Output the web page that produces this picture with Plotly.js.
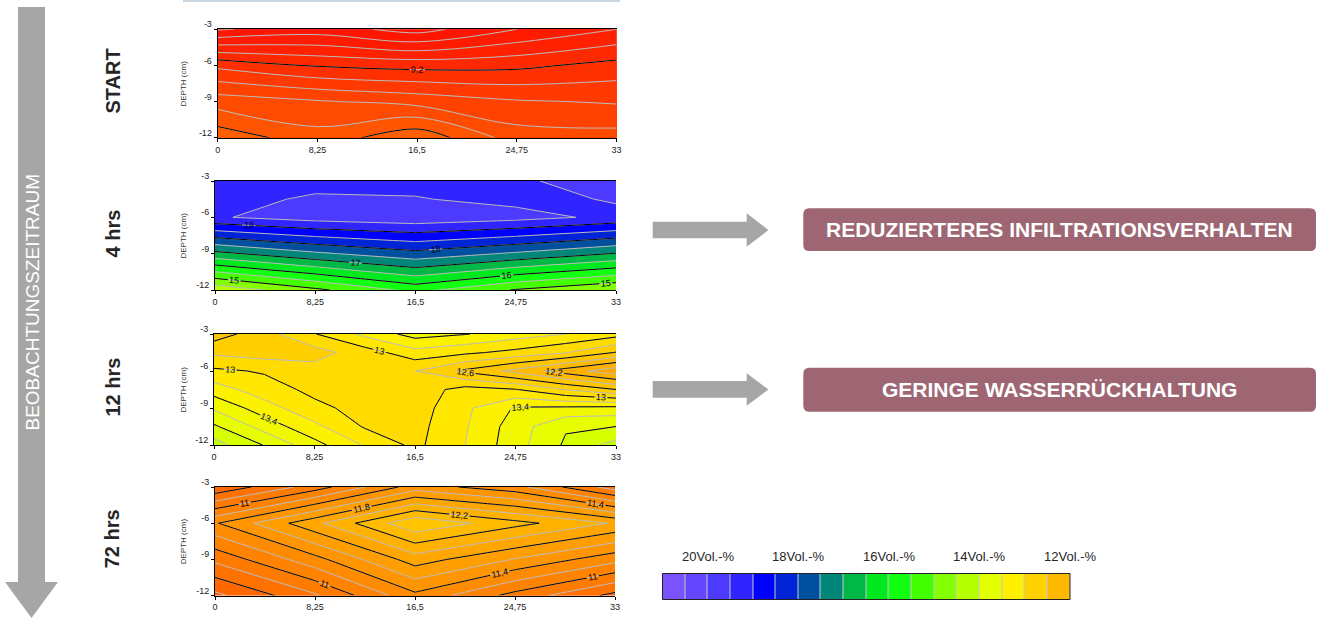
<!DOCTYPE html>
<html><head><meta charset="utf-8">
<script src="https://cdn.plot.ly/plotly-3.0.1.min.js"></script>
<style>html,body{margin:0;padding:0;background:#fff;overflow:hidden}#chart{width:1318px;height:618px}</style>
</head><body><div id="chart"></div>
<script>
// ---------------- data ----------------
const xTicks = [0, 8.25, 16.5, 24.75, 33];
const xTickText = ['0', '8,25', '16,5', '24,75', '33'];
const yTicks = [-3, -6, -9, -12];
const yTickText = ['-3', '-6', '-9', '-12'];
const panelNames = ['START', '4 hrs', '12 hrs', '72 hrs'];
const noteTexts = ['REDUZIERTERES INFILTRATIONSVERHALTEN', 'GERINGE WASSERRÜCKHALTUNG'];
const sideTitle = 'BEOBACHTUNGSZEITRAUM';

// START (Vol.-%)
const startX = [0, 8.25, 16.5, 24.75, 33];
const startY = [-3, -6, -9, -12];
const startZm3  = [8.38, 8.50, 8.32, 8.60, 8.80];
const startZm6  = [9.35, 9.18, 9.13, 9.15, 9.27];
const startZm9  = [9.91, 9.82, 9.73, 9.62, 9.58];
const startZm12 = [10.33, 10.08, 10.35, 9.90, 9.88];

// 4 hrs
const h4X = [0, 8.25, 16.5, 24.75, 33];
const h4Y = [-3, -4.5, -6, -9, -12];
const h4Zm3  = [19.30, 19.36, 19.35, 19.42, 19.75];
const h4Zm45 = [19.35, 19.56, 19.53, 19.36, 19.54];
const h4Zm6  = [19.45, 19.73, 19.85, 19.68, 19.38];
const h4Zm9  = [16.85, 17.40, 17.83, 17.42, 16.97];
const h4Zm12 = [14.13, 14.89, 15.66, 14.96, 14.50];

// 12 hrs
const h12X = [0, 4.125, 8.25, 12.375, 16.5, 20.625, 24.75, 28.875, 33];
const h12Y = [-3, -4.5, -6, -7.5, -9, -10.5, -12];
const h12Zm3   = [12.50, 12.72, 12.99, 13.25, 13.48, 13.41, 13.30, 13.20, 13.08];
const h12Zm45  = [12.76, 12.70, 12.72, 12.90, 13.13, 13.04, 12.94, 12.81, 12.59];
const h12Zm6   = [13.04, 12.98, 12.88, 12.84, 12.80, 12.56, 12.34, 12.10, 11.87];
const h12Zm75  = [13.30, 13.09, 12.95, 12.90, 12.88, 13.08, 13.01, 12.79, 12.60];
const h12Zm9   = [13.57, 13.29, 13.05, 12.93, 12.90, 13.16, 13.42, 13.44, 13.46];
const h12Zm105 = [13.83, 13.52, 13.25, 12.98, 12.93, 13.18, 13.50, 13.78, 13.80];
const h12Zm12  = [14.09, 13.79, 13.47, 13.18, 12.95, 13.20, 13.52, 13.83, 14.08];

// 72 hrs
const h72X = [0, 8.25, 16.5, 24.75, 33];
const h72Y = [-3, -6, -9, -12];
const h72Zm3  = [10.43, 10.90, 11.50, 11.27, 10.70];
const h72Zm6  = [11.38, 11.95, 12.57, 12.27, 11.98];
const h72Zm9  = [10.85, 11.33, 11.90, 11.59, 11.27];
const h72Zm12 = [10.35, 10.77, 11.35, 10.93, 10.54];

// colour key (Vol.-% bins) and colours
const legendValues = [20.75, 20.25, 19.75, 19.25, 18.75, 18.25, 17.75, 17.25, 16.75, 16.25, 15.75, 15.25, 14.75, 14.25, 13.75, 13.25, 12.75, 12.25];
const legendLabelValues = [20, 18, 16, 14, 12];
const legendLabels = ['20Vol.-%', '18Vol.-%', '16Vol.-%', '14Vol.-%', '12Vol.-%'];
const colorValues = [8.25, 8.75, 9.25, 9.75, 10.25, 10.75, 11.25, 11.75, 12.25, 12.75, 13.25, 13.75, 14.25, 14.75, 15.25, 15.75, 16.25, 16.75, 17.25, 17.75, 18.25, 18.75, 19.25, 19.75, 20.25, 20.75];
const colorHex = ['#ff1000', '#ff1c00', '#ff2e00', '#ff4400', '#ff5c00', '#ff7400', '#ff8a00', '#ffa000', '#ffb800', '#ffd200', '#fff000', '#e4ff00', '#b4ff00', '#84ff00', '#44ff00', '#12ff12', '#00e81e', '#00b846', '#00877a', '#0050a0', '#0024d6', '#0000ff', '#3024ff', '#4c3aff', '#6446ff', '#7b52ff'];

// ---------------- helpers ----------------
const W = 1318, H = 618;
const PX = v => v / W, PY = v => 1 - v / H;
function hex2rgb(h){return [parseInt(h.slice(1,3),16),parseInt(h.slice(3,5),16),parseInt(h.slice(5,7),16)];}
function colorAt(v){
  if (v <= colorValues[0]) return colorHex[0];
  const n = colorValues.length;
  if (v >= colorValues[n-1]) return colorHex[n-1];
  for (let i = 0; i < n-1; i++){
    if (v >= colorValues[i] && v <= colorValues[i+1]){
      const t = (v - colorValues[i]) / (colorValues[i+1] - colorValues[i]);
      const a = hex2rgb(colorHex[i]), b = hex2rgb(colorHex[i+1]);
      const c = a.map((x,k)=>Math.round(x + (b[k]-x)*t));
      return 'rgb(' + c.join(',') + ')';
    }
  }
}
function scaleFor(start, end, size){
  const nc = Math.floor((end - start) / size + 1e-6) + 1;
  const s = [];
  for (let k = 0; k <= nc; k++) s.push([k / nc, colorAt(start + (k - 0.5) * size)]);
  return s;
}
const FONT = 'Liberation Sans, Arial, sans-serif';

const panels = [
  {x: startX, y: startY, z: [startZm3, startZm6, startZm9, startZm12], box: [217.7, 29.3, 616.5, 137.7],
   fill: [8.2, 10.6, 0.2], lab: [9.2, 9.2, 1], plain: [10.2, 10.2, 1], fmt: '.2~g', smooth: 1},
  {x: h4X, y: h4Y, z: [h4Zm3, h4Zm45, h4Zm6, h4Zm9, h4Zm12], box: [215, 181, 616, 290],
   fill: [14, 20, 0.5], lab: [15, 19, 1], plain: null, fmt: '.0f', smooth: 0},
  {x: h12X, y: h12Y, z: [h12Zm3, h12Zm45, h12Zm6, h12Zm75, h12Zm9, h12Zm105, h12Zm12], box: [214, 334, 616, 445],
   fill: [11.8, 14.2, 0.2], lab: [12.2, 13.8, 0.4], plain: null, fmt: '.3~g', smooth: 0},
  {x: h72X, y: h72Y, z: [h72Zm3, h72Zm6, h72Zm9, h72Zm12], box: [215, 487, 615, 595.5],
   fill: [10.2, 12.8, 0.2], lab: [11.0, 12.2, 0.4], plain: [10.6, 10.6, 1], fmt: '.3~g', smooth: 0}
];

const traces = [];
const layout = {
  width: W, height: H, margin: {l:0, r:0, t:0, b:0}, paper_bgcolor: '#fff', plot_bgcolor: '#fff',
  showlegend: false, separators: ', ', font: {family: FONT, color: '#222'},
  shapes: [], annotations: []
};

panels.forEach((p, i) => {
  const n = i + 1, xa = 'x' + (n === 1 ? '' : n), ya = 'y' + (n === 1 ? '' : n);
  const [l, t, r, b] = p.box;
  layout['xaxis' + (n === 1 ? '' : n)] = {
    domain: [PX(l), PX(r)], anchor: ya, range: [0, 33], tickmode: 'array', tickvals: xTicks, ticktext: xTickText,
    ticks: 'outside', ticklen: 3, tickcolor: '#000', showline: true, linecolor: '#000', linewidth: 1, mirror: true,
    showgrid: false, zeroline: false, tickfont: {family: FONT, size: 9, color: '#222'}, fixedrange: true
  };
  layout['yaxis' + (n === 1 ? '' : n)] = {
    domain: [1 - b / H, 1 - t / H], anchor: xa, range: [-12, -3], tickmode: 'array', tickvals: yTicks, ticktext: yTickText,
    ticks: 'outside', ticklen: 3, tickcolor: '#000', showline: true, linecolor: '#000', linewidth: 1,
    showgrid: false, zeroline: false, tickfont: {family: FONT, size: 9, color: '#222'}, ticklabelshift: -5, fixedrange: true
  };
  traces.push({type: 'contour', x: p.x, y: p.y, z: p.z, xaxis: xa, yaxis: ya, autocontour: false,
    contours: {coloring: 'fill', start: p.fill[0], end: p.fill[1], size: p.fill[2], showlines: true},
    line: {color: '#bcbcbc', width: 1, smoothing: p.smooth}, colorscale: scaleFor(p.fill[0], p.fill[1], p.fill[2]),
    showscale: false, hoverinfo: 'skip'});
  traces.push({type: 'contour', x: p.x, y: p.y, z: p.z, xaxis: xa, yaxis: ya, autocontour: false,
    contours: {coloring: 'none', start: p.lab[0], end: p.lab[1], size: p.lab[2], showlines: true, showlabels: true,
      labelfont: {family: FONT, size: 9, color: '#000'}, labelformat: p.fmt},
    line: {color: '#000', width: 1, smoothing: p.smooth}, showscale: false, hoverinfo: 'skip'});
  if (p.plain) traces.push({type: 'contour', x: p.x, y: p.y, z: p.z, xaxis: xa, yaxis: ya, autocontour: false,
    contours: {coloring: 'none', start: p.plain[0], end: p.plain[1], size: p.plain[2], showlines: true, showlabels: false},
    line: {color: '#000', width: 1, smoothing: p.smooth}, showscale: false, hoverinfo: 'skip'});
  const cy = (t + b) / 2;
  layout.annotations.push({xref: 'paper', yref: 'paper', x: PX(183), y: PY(cy), text: 'DEPTH (cm)', textangle: -90,
    showarrow: false, xanchor: 'center', yanchor: 'middle', font: {family: FONT, size: 8, color: '#333'}});
  layout.annotations.push({xref: 'paper', yref: 'paper', x: PX(112), y: PY(cy - 2), text: panelNames[i], textangle: -90,
    showarrow: false, xanchor: 'center', yanchor: 'middle', font: {family: FONT, size: 20, color: '#262626', weight: 'bold'}});
});

// colour key as a heatmap
traces.push({type: 'heatmap', z: [legendValues], x: legendValues.map((v, k) => k), y: [0], xaxis: 'x5', yaxis: 'y5',
  zmin: legendValues[legendValues.length - 1], zmax: legendValues[0],
  colorscale: legendValues.slice().reverse().map(v => [(v - 12.25) / 8.5, colorAt(v)]),
  xgap: 1, showscale: false, hoverinfo: 'skip'});
layout.xaxis5 = {domain: [PX(662.5), PX(1070)], anchor: 'y5', range: [-0.5, legendValues.length - 0.5], visible: false, fixedrange: true};
layout.yaxis5 = {domain: [1 - 599.5 / H, 1 - 573.5 / H], anchor: 'x5', range: [-0.5, 0.5], visible: false, fixedrange: true};
layout.shapes.push({type: 'rect', xref: 'paper', yref: 'paper', x0: PX(662.5), x1: PX(1070), y0: PY(599.5), y1: PY(573.5),
  fillcolor: '#c8c8c8', line: {width: 0}, layer: 'below'});
layout.shapes.push({type: 'rect', xref: 'paper', yref: 'paper', x0: PX(662.5), x1: PX(1070), y0: PY(599.5), y1: PY(573.5),
  fillcolor: 'rgba(0,0,0,0)', line: {width: 1, color: '#222'}, layer: 'above'});
legendLabelValues.forEach((v, k) => {
  layout.annotations.push({xref: 'x5', yref: 'paper', x: (21 - v) * 2 - 0.5, y: PY(556.5), text: legendLabels[k],
    showarrow: false, xanchor: 'center', yanchor: 'middle', font: {family: FONT, size: 13, color: '#262626'}});
});

// decorations: arrows, boxes, top rule
function poly(pts){return 'M ' + pts.map(q => PX(q[0]) + ',' + PY(q[1])).join(' L ') + ' Z';}
function rrect(x0, y0, x1, y1, r){
  const P = (x, y) => PX(x) + ',' + PY(y);
  return 'M ' + P(x0 + r, y0) + ' L ' + P(x1 - r, y0) + ' Q ' + P(x1, y0) + ' ' + P(x1, y0 + r) +
    ' L ' + P(x1, y1 - r) + ' Q ' + P(x1, y1) + ' ' + P(x1 - r, y1) + ' L ' + P(x0 + r, y1) +
    ' Q ' + P(x0, y1) + ' ' + P(x0, y1 - r) + ' L ' + P(x0, y0 + r) + ' Q ' + P(x0, y0) + ' ' + P(x0 + r, y0) + ' Z';
}
const GREY = '#a6a6a6';
layout.shapes.push({type: 'path', xref: 'paper', yref: 'paper', fillcolor: GREY, line: {width: 0},
  path: poly([[18, 7], [45, 7], [45, 582], [58, 582], [31.5, 618], [5, 582], [18, 582]])});
[[221.7, 238.3, 213.3, 246.7], [381, 397.7, 373.3, 405.7]].forEach(a => {
  const mid = (a[2] + a[3]) / 2;
  layout.shapes.push({type: 'path', xref: 'paper', yref: 'paper', fillcolor: GREY, line: {width: 0},
    path: poly([[652.7, a[0]], [746.7, a[0]], [746.7, a[2]], [768.5, mid], [746.7, a[3]], [746.7, a[1]], [652.7, a[1]]])});
});
[[208.3, 251], [367.7, 411.7]].forEach((bx, k) => {
  layout.shapes.push({type: 'path', xref: 'paper', yref: 'paper', fillcolor: '#9d6672', line: {width: 0},
    path: rrect(803.3, bx[0], 1316, bx[1], 6)});
  layout.annotations.push({xref: 'paper', yref: 'paper', x: PX(1059.6), y: PY((bx[0] + bx[1]) / 2), text: noteTexts[k],
    showarrow: false, xanchor: 'center', yanchor: 'middle', font: {family: FONT, size: 21, color: '#fff', weight: 'bold'}});
});
layout.shapes.push({type: 'line', xref: 'paper', yref: 'paper', x0: PX(183), x1: PX(620), y0: PY(1), y1: PY(1),
  line: {color: '#c9d5dd', width: 2}});
layout.annotations.push({xref: 'paper', yref: 'paper', x: PX(31.5), y: PY(302), text: sideTitle, textangle: -90,
  showarrow: false, xanchor: 'center', yanchor: 'middle', font: {family: FONT, size: 19, color: '#fff'}});

Plotly.newPlot('chart', traces, layout, {staticPlot: true, displayModeBar: false});
</script></body></html>
